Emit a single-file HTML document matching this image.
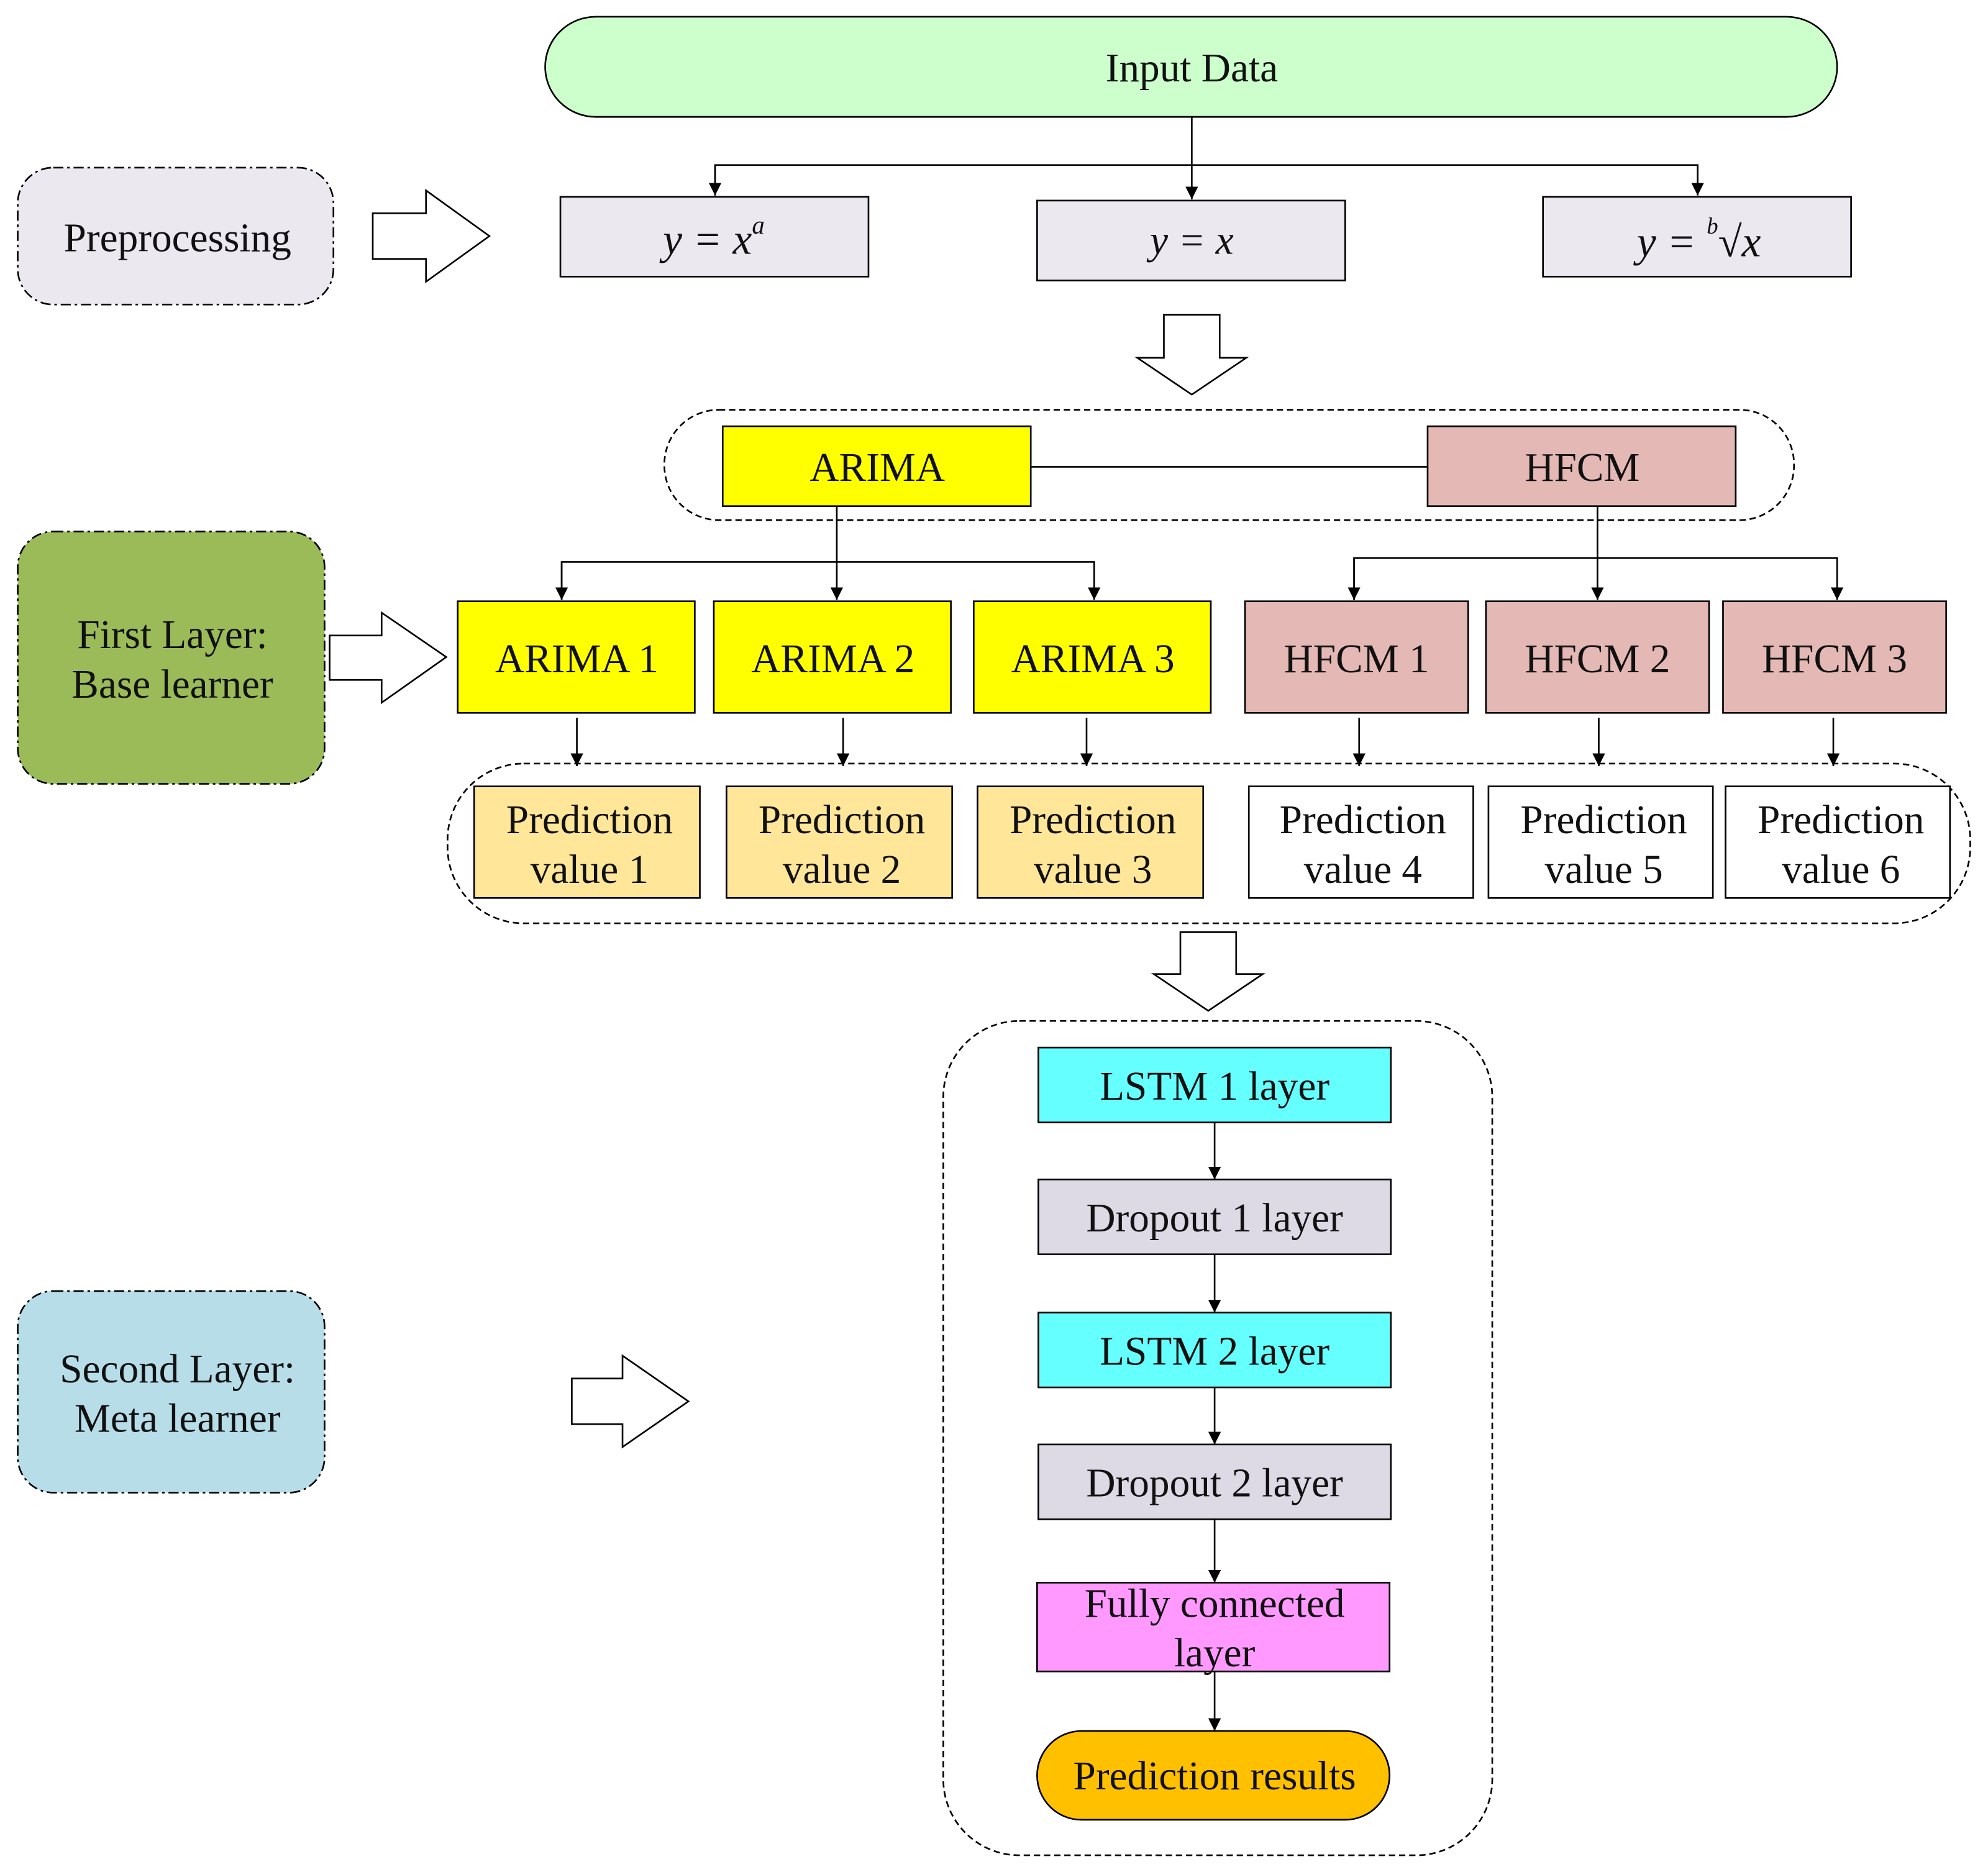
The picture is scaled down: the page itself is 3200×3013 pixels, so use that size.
<!DOCTYPE html>
<html><head><meta charset="utf-8"><style>
html,body{margin:0;padding:0;background:#fff;}
svg{display:block;}
text{font-family:"Liberation Serif",serif;fill:#111;}
</style></head><body>
<svg width="3200" height="3013" viewBox="0 0 1568 1476" xmlns="http://www.w3.org/2000/svg">
<defs>
<marker id="a" markerWidth="12" markerHeight="12" refX="10" refY="5" orient="auto" markerUnits="userSpaceOnUse">
<path d="M0,0 L10,5 L0,10 z" fill="#000"/>
</marker>
</defs>
<g stroke="#000" stroke-width="1.3">
<rect x="430" y="13" width="1019" height="79" rx="40" fill="#ccffcc"/>
<rect x="14" y="132" width="249" height="108" rx="28" fill="#ebe8f0" stroke-dasharray="8,3,2,3"/>
<rect x="14" y="419" width="242" height="199" rx="28" fill="#9bbb59" stroke-dasharray="8,3,2,3"/>
<rect x="14" y="1018" width="242" height="159" rx="28" fill="#b7dde8" stroke-dasharray="8,3,2,3"/>
<rect x="442" y="155" width="243" height="63" fill="#ebe8f0"/>
<rect x="818" y="158" width="243" height="63" fill="#ebe8f0"/>
<rect x="1217" y="155" width="243" height="63" fill="#ebe8f0"/>
<g fill="none">
<line x1="940" y1="92" x2="940" y2="157" marker-end="url(#a)"/>
<polyline points="564,154 564,130 1339,130 1339,154" marker-end="url(#a)"/>
<line x1="564" y1="130" x2="564" y2="154" marker-end="url(#a)"/>
</g>
<path d="M294,168 L336,168 L336,150 L386,186 L336,222 L336,204 L294,204 Z" fill="#fff"/>
<path d="M260,501 L301,501 L301,483 L352,518 L301,554 L301,536 L260,536 Z" fill="#fff"/>
<path d="M451,1087 L491,1087 L491,1069 L543,1105 L491,1141 L491,1123 L451,1123 Z" fill="#fff"/>
<path d="M918,248 L962,248 L962,282 L983,282 L940,311 L897,282 L918,282 Z" fill="#fff"/>
<path d="M931,735 L975,735 L975,768 L996,768 L953,797 L910,768 L931,768 Z" fill="#fff"/>
<rect x="524" y="323" width="891" height="87" rx="43" fill="none" stroke-dasharray="5,3"/>
<line x1="813" y1="368" x2="1126" y2="368"/>
<rect x="570" y="336" width="243" height="63" fill="#ffff00"/>
<rect x="1126" y="336" width="243" height="63" fill="#e4b9b5"/>
<g fill="none">
<line x1="660" y1="399" x2="660" y2="473" marker-end="url(#a)"/>
<polyline points="443,473 443,443 863,443 863,473" marker-end="url(#a)"/>
<line x1="443" y1="443" x2="443" y2="473" marker-end="url(#a)"/>
<line x1="1260" y1="399" x2="1260" y2="473" marker-end="url(#a)"/>
<polyline points="1068,473 1068,440 1449,440 1449,473" marker-end="url(#a)"/>
<line x1="1068" y1="440" x2="1068" y2="473" marker-end="url(#a)"/>
</g>
<rect x="361" y="474" width="187" height="88" fill="#ffff00"/>
<rect x="563" y="474" width="187" height="88" fill="#ffff00"/>
<rect x="768" y="474" width="187" height="88" fill="#ffff00"/>
<rect x="982" y="474" width="176" height="88" fill="#e4b9b5"/>
<rect x="1172" y="474" width="176" height="88" fill="#e4b9b5"/>
<rect x="1359" y="474" width="176" height="88" fill="#e4b9b5"/>
<g fill="none">
<line x1="455" y1="566" x2="455" y2="604" marker-end="url(#a)"/>
<line x1="665" y1="566" x2="665" y2="604" marker-end="url(#a)"/>
<line x1="857" y1="566" x2="857" y2="604" marker-end="url(#a)"/>
<line x1="1072" y1="566" x2="1072" y2="604" marker-end="url(#a)"/>
<line x1="1261" y1="566" x2="1261" y2="604" marker-end="url(#a)"/>
<line x1="1446" y1="566" x2="1446" y2="604" marker-end="url(#a)"/>
</g>
<rect x="353" y="602" width="1201" height="126" rx="60" fill="none" stroke-dasharray="5,3"/>
<rect x="374" y="620" width="178" height="88" fill="#ffe699"/>
<rect x="573" y="620" width="178" height="88" fill="#ffe699"/>
<rect x="771" y="620" width="178" height="88" fill="#ffe699"/>
<rect x="985" y="620" width="177" height="88" fill="#fff"/>
<rect x="1174" y="620" width="177" height="88" fill="#fff"/>
<rect x="1361" y="620" width="177" height="88" fill="#fff"/>
<rect x="744" y="805" width="433" height="658" rx="60" fill="none" stroke-dasharray="5,3"/>
<rect x="819" y="826" width="278" height="59" fill="#66ffff"/>
<rect x="819" y="930" width="278" height="59" fill="#ddd9e5"/>
<rect x="819" y="1035" width="278" height="59" fill="#66ffff"/>
<rect x="819" y="1139" width="278" height="59" fill="#ddd9e5"/>
<rect x="818" y="1248" width="278" height="70" fill="#ff99ff"/>
<rect x="818" y="1365" width="278" height="70" rx="35" fill="#ffc000"/>
<g fill="none">
<line x1="958" y1="885" x2="958" y2="930" marker-end="url(#a)"/>
<line x1="958" y1="989" x2="958" y2="1035" marker-end="url(#a)"/>
<line x1="958" y1="1094" x2="958" y2="1139" marker-end="url(#a)"/>
<line x1="958" y1="1198" x2="958" y2="1248" marker-end="url(#a)"/>
<line x1="958" y1="1318" x2="958" y2="1365" marker-end="url(#a)"/>
</g>
</g>
<g font-size="32" text-anchor="middle">
<text x="940" y="64">Input Data</text>
<text x="140" y="198">Preprocessing</text>
<text x="136" y="511">First Layer:</text>
<text x="136" y="550">Base learner</text>
<text x="140" y="1090">Second Layer:</text>
<text x="140" y="1129">Meta learner</text>
<text x="563" y="200" font-style="italic" font-size="34">y = x<tspan font-size="20" dy="-16">a</tspan></text>
<text x="940" y="200" font-style="italic" font-size="32">y = x</text>
<text x="1340" y="202" font-style="italic" font-size="34">y = <tspan font-size="18" dy="-18">b</tspan><tspan dy="18">√x</tspan></text>
<text x="692" y="379">ARIMA</text>
<text x="1248" y="379">HFCM</text>
<text x="455" y="530">ARIMA 1</text>
<text x="657" y="530">ARIMA 2</text>
<text x="862" y="530">ARIMA 3</text>
<text x="1070" y="530">HFCM 1</text>
<text x="1260" y="530">HFCM 2</text>
<text x="1447" y="530">HFCM 3</text>
<text x="465" y="657">Prediction</text><text x="465" y="696">value 1</text>
<text x="664" y="657">Prediction</text><text x="664" y="696">value 2</text>
<text x="862" y="657">Prediction</text><text x="862" y="696">value 3</text>
<text x="1075" y="657">Prediction</text><text x="1075" y="696">value 4</text>
<text x="1265" y="657">Prediction</text><text x="1265" y="696">value 5</text>
<text x="1452" y="657">Prediction</text><text x="1452" y="696">value 6</text>
<text x="958" y="867">LSTM 1 layer</text>
<text x="958" y="971">Dropout 1 layer</text>
<text x="958" y="1076">LSTM 2 layer</text>
<text x="958" y="1180">Dropout 2 layer</text>
<text x="958" y="1275">Fully connected</text>
<text x="958" y="1314">layer</text>
<text x="958" y="1411">Prediction results</text>
</g>
</svg>
</body></html>
